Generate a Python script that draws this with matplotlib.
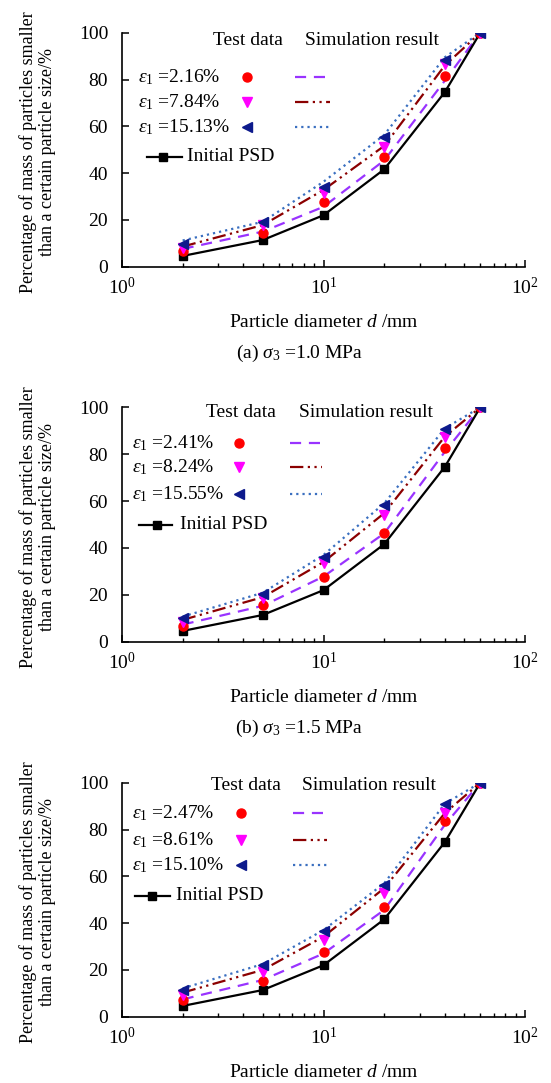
import numpy as np
import matplotlib
matplotlib.use("Agg")
import matplotlib.pyplot as plt
from matplotlib.ticker import LogLocator, FixedLocator, NullFormatter

plt.rcParams['font.family'] = ['Liberation Serif', 'DejaVu Serif']
plt.rcParams['mathtext.fontset'] = 'custom'
plt.rcParams['mathtext.rm'] = 'Liberation Serif'
plt.rcParams['mathtext.it'] = 'Liberation Serif:italic'
plt.rcParams['mathtext.bf'] = 'Liberation Serif:bold'

# ---------------- data ----------------
sizes = [2, 5, 10, 20, 40, 60]
initial_psd = [4.6, 11.4, 22.0, 41.6, 74.6, 100]

panel_captions = [r"(a) $\sigma_3$ =1.0 MPa", r"(b) $\sigma_3$ =1.5 MPa", None]
strain_labels = [["2.16%", "7.84%", "15.13%"],
                 ["2.41%", "8.24%", "15.55%"],
                 ["2.47%", "8.61%", "15.10%"]]

# test data (markers)
test_a = [[6.8, 14.3, 27.5, 47.0, 81.5, 100],
          [8.0, 17.8, 31.4, 51.3, 86.5, 100],
          [9.5, 19.0, 34.2, 55.3, 88.3, 100]]
test_b = [[6.7, 15.5, 27.7, 46.5, 82.5, 100],
          [8.5, 18.5, 33.4, 54.0, 87.5, 100],
          [10.0, 20.3, 36.3, 58.3, 90.6, 100]]
test_c = [[7.1, 15.1, 27.5, 47.0, 83.7, 100],
          [9.3, 19.2, 32.8, 53.0, 87.2, 100],
          [11.4, 22.0, 36.6, 56.3, 90.8, 100]]

# simulation results (lines)
sim_a = [[7.6, 15.0, 25.6, 45.4, 79.5, 100],
         [8.6, 17.8, 32.8, 51.6, 86.0, 100],
         [11.2, 19.2, 36.3, 56.3, 89.5, 100]]
sim_b = [[7.3, 15.3, 27.8, 46.2, 81.0, 100],
         [9.3, 19.0, 34.0, 54.8, 87.5, 100],
         [10.7, 20.9, 37.0, 59.0, 91.0, 100]]
sim_c = [[7.4, 15.7, 27.0, 45.6, 82.0, 100],
         [10.3, 20.0, 34.2, 54.9, 87.0, 100],
         [12.1, 22.5, 37.0, 57.0, 91.0, 100]]

tests = [test_a, test_b, test_c]
sims = [sim_a, sim_b, sim_c]

# ---------------- styles ----------------
mk_colors = ['#FF0000', '#FF00FF', '#0D1A8C']
mk_shapes = ['o', 'v', '<']
ln_colors = ['#9933FF', '#8B0000', '#3A6FC0']
ln_styles = [(0, (5, 3.5)), (0, (6, 2, 1, 2, 1, 2)), (0, (1, 1.8))]

W, H = 551, 1083
fig = plt.figure(figsize=(W / 100, H / 100), dpi=100)

ax_left_px, ax_right_px = 122, 525
ax_tb_px = [(32.7, 266.7), (407.3, 641.7), (782.7, 1016.7)]

# legend layout per panel (axes fraction)
leg = [
    dict(head_y=0.966, td_x=0.313, sr_x=0.62, rows=[0.811, 0.705, 0.597], init_y=0.470,
         eps_x=0.040, mk_x=0.310, ln=(0.429, 0.516), iln=(0.062, 0.149), imk=0.101, itx=0.161),
    dict(head_y=0.977, td_x=0.295, sr_x=0.605, rows=[0.848, 0.744, 0.631], init_y=0.499,
         eps_x=0.025, mk_x=0.290, ln=(0.417, 0.496), iln=(0.042, 0.124), imk=0.087, itx=0.144),
    dict(head_y=0.986, td_x=0.308, sr_x=0.614, rows=[0.870, 0.755, 0.648], init_y=0.516,
         eps_x=0.025, mk_x=0.295, ln=(0.424, 0.509), iln=(0.032, 0.119), imk=0.074, itx=0.134),
]

FS = 14

for p in range(3):
    top, bot = ax_tb_px[p]
    ax = fig.add_axes([ax_left_px / W, 1 - bot / H, (ax_right_px - ax_left_px) / W, (bot - top) / H])
    ax.set_xscale('log')
    ax.set_xlim(1, 100)
    ax.set_ylim(0, 100)

    # lines (simulation)
    for i in range(3):
        ax.plot(sizes, sims[p][i], color=ln_colors[i], linestyle=ln_styles[i], lw=1.6, zorder=3)
    ax.plot(sizes, initial_psd, color='black', lw=1.6, marker='s', ms=6, zorder=4)
    for i in range(3):
        ax.plot(sizes, tests[p][i], linestyle='none', marker=mk_shapes[i], color=mk_colors[i],
                ms=6.5, zorder=5)

    for s in ['top', 'right']:
        ax.spines[s].set_visible(False)
    for s in ['left', 'bottom']:
        ax.spines[s].set_linewidth(1.2)

    ax.set_yticks([0, 20, 40, 60, 80, 100])
    ax.xaxis.set_major_locator(FixedLocator([1, 10, 100]))
    ax.xaxis.set_minor_locator(LogLocator(base=10, subs=np.arange(2, 10), numticks=10))
    ax.xaxis.set_minor_formatter(NullFormatter())
    ax.tick_params(axis='both', which='major', direction='in', length=5, width=1.1,
                   labelsize=FS, pad=7)
    ax.tick_params(axis='x', which='minor', direction='in', length=3, width=1.0)
    ax.tick_params(axis='y', which='major', pad=10)

    ax.set_xlabel(r"Particle diameter $d$ /mm", fontsize=FS, labelpad=12)
    ax.set_ylabel("Percentage of mass of particles smaller\nthan a certain particle size/%",
                  fontsize=13, linespacing=1.1)
    ax.yaxis.set_label_coords(-0.165, 0.49)

    L = leg[p]
    tr = ax.transAxes
    ax.text(L['td_x'], L['head_y'], "Test data", transform=tr, ha='center', va='center', fontsize=FS)
    ax.text(L['sr_x'], L['head_y'], "Simulation result", transform=tr, ha='center', va='center', fontsize=FS)
    for i in range(3):
        y = L['rows'][i]
        ax.text(L['eps_x'], y, r"$\varepsilon_1$ =" + strain_labels[p][i], transform=tr,
                ha='left', va='center', fontsize=FS)
        ax.plot([L['mk_x']], [y], transform=tr, marker=mk_shapes[i], color=mk_colors[i],
                ms=6.5, linestyle='none', clip_on=False)
        ax.plot(L['ln'], [y, y], transform=tr, color=ln_colors[i], linestyle=ln_styles[i],
                lw=1.6, clip_on=False)
    y = L['init_y']
    ax.plot(L['iln'], [y, y], transform=tr, color='black', lw=1.6, clip_on=False)
    ax.plot([L['imk']], [y], transform=tr, color='black', marker='s', ms=6, clip_on=False)
    ax.text(L['itx'], y, "Initial PSD", transform=tr, ha='left', va='center', fontsize=FS)

    if panel_captions[p]:
        ax.text(0.44, -0.37, panel_captions[p], transform=tr, ha='center', va='center', fontsize=FS)

fig.savefig("out.png", dpi=100)
